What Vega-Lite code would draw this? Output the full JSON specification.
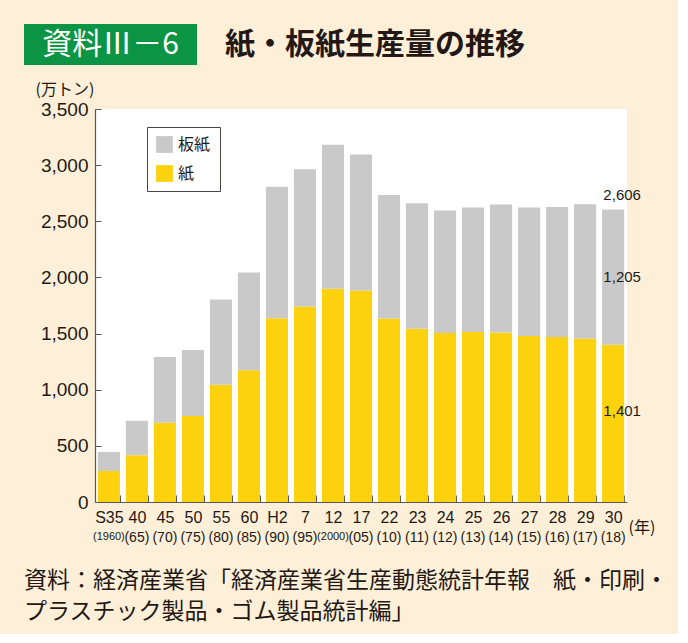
{
  "$schema": "https://vega.github.io/schema/vega-lite/v6.json",
  "background": "#FEF0D8",
  "padding": {"left": 24, "top": 24, "right": 10, "bottom": 10},
  "config": {"view": {"stroke": null}, "font": "Liberation Sans"},
  "title": {
    "text": ["資料：経済産業省「経済産業省生産動態統計年報　紙・印刷・", "　　　プラスチック製品・ゴム製品統計編」"],
    "orient": "bottom", "anchor": "start", "frame": "group",
    "font": "Noto Sans CJK JP", "fontSize": 23, "fontWeight": "normal",
    "color": "#231815", "lineHeight": 31, "offset": 26, "baseline": "top"
  },
  "spacing": 16,
  "resolve": {"scale": {"color": "independent"}, "legend": {"color": "independent"}},
  "vconcat": [
    {
      "spacing": 25,
      "hconcat": [
        {
          "width": 173, "height": 41,
          "view": {"fill": "#0B9444", "stroke": null},
          "data": {"values": [{"t": "資料Ⅲ－6"}]},
          "mark": {"type": "text", "font": "Noto Sans CJK JP", "fontSize": 30, "color": "white", "baseline": "middle", "align": "center"},
          "encoding": {"text": {"field": "t", "type": "nominal"}}
        },
        {
          "width": 306, "height": 41,
          "data": {"values": [{"t": "紙・板紙生産量の推移"}]},
          "mark": {"type": "text", "font": "Noto Sans CJK JP", "fontSize": 30, "fontWeight": "bold", "color": "#231815", "baseline": "middle", "align": "center"},
          "encoding": {"text": {"field": "t", "type": "nominal"}}
        }
      ]
    },
    {
      "spacing": 9,
      "resolve": {"scale": {"color": "independent"}, "legend": {"color": "independent"}},
      "hconcat": [
        {
          "width": 2, "height": 2,
          "data": {"values": [{"t": " "}]},
          "mark": {"type": "text"},
          "encoding": {"text": {"field": "t", "type": "nominal"}}
        },
        {
          "width": 532, "height": 393,
          "view": {"fill": "white", "stroke": null},
          "data": {"values": [
            {"year": "S35|(1960)", "type": "紙", "value": 277}, {"year": "S35|(1960)", "type": "板紙", "value": 169},
            {"year": "40|(65)", "type": "紙", "value": 417}, {"year": "40|(65)", "type": "板紙", "value": 306},
            {"year": "45|(70)", "type": "紙", "value": 705}, {"year": "45|(70)", "type": "板紙", "value": 587},
            {"year": "50|(75)", "type": "紙", "value": 765}, {"year": "50|(75)", "type": "板紙", "value": 589},
            {"year": "55|(80)", "type": "紙", "value": 1045}, {"year": "55|(80)", "type": "板紙", "value": 759},
            {"year": "60|(85)", "type": "紙", "value": 1173}, {"year": "60|(85)", "type": "板紙", "value": 872},
            {"year": "H2|(90)", "type": "紙", "value": 1637}, {"year": "H2|(90)", "type": "板紙", "value": 1170},
            {"year": "7|(95)", "type": "紙", "value": 1741}, {"year": "7|(95)", "type": "板紙", "value": 1223},
            {"year": "12|(2000)", "type": "紙", "value": 1899}, {"year": "12|(2000)", "type": "板紙", "value": 1283},
            {"year": "17|(05)", "type": "紙", "value": 1884}, {"year": "17|(05)", "type": "板紙", "value": 1211},
            {"year": "22|(10)", "type": "紙", "value": 1634}, {"year": "22|(10)", "type": "板紙", "value": 1101},
            {"year": "23|(11)", "type": "紙", "value": 1542}, {"year": "23|(11)", "type": "板紙", "value": 1119},
            {"year": "24|(12)", "type": "紙", "value": 1506}, {"year": "24|(12)", "type": "板紙", "value": 1089},
            {"year": "25|(13)", "type": "紙", "value": 1515}, {"year": "25|(13)", "type": "板紙", "value": 1107},
            {"year": "26|(14)", "type": "紙", "value": 1509}, {"year": "26|(14)", "type": "板紙", "value": 1140},
            {"year": "27|(15)", "type": "紙", "value": 1479}, {"year": "27|(15)", "type": "板紙", "value": 1143},
            {"year": "28|(16)", "type": "紙", "value": 1470}, {"year": "28|(16)", "type": "板紙", "value": 1158},
            {"year": "29|(17)", "type": "紙", "value": 1455}, {"year": "29|(17)", "type": "板紙", "value": 1197},
            {"year": "30|(18)", "type": "紙", "value": 1401}, {"year": "30|(18)", "type": "板紙", "value": 1205}
          ]},
          "resolve": {"axis": {"x": "independent"}},
          "layer": [
            {
              "transform": [{"calculate": "datum.type === '紙' ? 0 : 1", "as": "ord"}],
              "mark": {"type": "bar"},
              "encoding": {
                "x": {
                  "field": "year", "type": "ordinal", "sort": null,
                  "scale": {"domain": ["S35|(1960)","40|(65)","45|(70)","50|(75)","55|(80)","60|(85)","H2|(90)","7|(95)","12|(2000)","17|(05)","22|(10)","23|(11)","24|(12)","25|(13)","26|(14)","27|(15)","28|(16)","29|(17)","30|(18)"], "paddingInner": 0.21, "paddingOuter": 0.1},
                  "axis": {
                    "orient": "bottom", "labelExpr": "isString(datum.value) ? replace(datum.value, /[|].*$/, '') : ''", "labelAngle": 0,
                    "labelFont": "Liberation Sans", "labelFontSize": 16, "labelColor": "#231815",
                    "labelPadding": 14, "labelOverlap": false,
                    "domainColor": "#595757", "domainWidth": 1.2,
                    "tickColor": "#595757", "tickSize": -7, "tickWidth": 1, "tickBand": "extent",
                    "title": "(年)", "titleFont": "Noto Sans CJK JP", "titleFontSize": 16, "titleFontWeight": "normal",
                    "titleColor": "#231815", "titleX": 533, "titleY": 25, "titleAlign": "left", "titleBaseline": "middle", "titleAngle": 0
                  }
                },
                "y": {
                  "field": "value", "type": "quantitative", "stack": "zero",
                  "scale": {"domain": [0, 3500], "nice": false},
                  "axis": {
                    "values": [0, 500, 1000, 1500, 2000, 2500, 3000, 3500], "format": ",d",
                    "labelFont": "Liberation Sans", "labelFontSize": 19, "labelColor": "#231815", "labelPadding": 13,
                    "tickSize": -6, "tickColor": "#595757", "domainColor": "#595757", "domainWidth": 1.2, "grid": false,
                    "title": "(万トン)", "titleFont": "Noto Sans CJK JP", "titleFontSize": 16, "titleFontWeight": "normal",
                    "titleColor": "#231815", "titleAngle": 0, "titleAlign": "left", "titleBaseline": "middle",
                    "titleX": -60, "titleY": -20
                  }
                },
                "color": {
                  "field": "type", "type": "nominal",
                  "scale": {"domain": ["板紙", "紙"], "range": ["#C9C9CA", "#FCD20E"]},
                  "legend": {
                    "title": null, "orient": "none", "legendX": 52, "legendY": 18,
                    "fillColor": "white", "strokeColor": "#4D4240", "padding": 9,
                    "symbolType": "square", "symbolSize": 280, "symbolStrokeWidth": 0,
                    "labelFont": "Noto Sans CJK JP", "labelFontSize": 16, "labelColor": "#231815",
                    "labelOffset": 5, "rowPadding": 12
                  }
                },
                "order": {"field": "ord", "type": "quantitative"}
              }
            },
            {
              "transform": [
                {"filter": "datum.year === '30|(18)'"},
                {"aggregate": [{"op": "sum", "field": "value", "as": "total"}], "groupby": ["year"]}
              ],
              "mark": {"type": "text", "font": "Liberation Sans", "fontSize": 15, "color": "#231815", "dx": 9, "dy": -14, "baseline": "middle"},
              "encoding": {
                "x": {
                  "field": "year", "type": "ordinal", "sort": null,
                  "scale": {"domain": ["S35|(1960)","40|(65)","45|(70)","50|(75)","55|(80)","60|(85)","H2|(90)","7|(95)","12|(2000)","17|(05)","22|(10)","23|(11)","24|(12)","25|(13)","26|(14)","27|(15)","28|(16)","29|(17)","30|(18)"], "paddingInner": 0.21, "paddingOuter": 0.1},
                  "axis": {
                    "orient": "bottom", "labelExpr": "isString(datum.value) ? replace(datum.value, /^[^|]*[|]/, '') : ''", "labelAngle": 0,
                    "labelFont": "Liberation Sans",
                    "labelFontSize": {"condition": {"test": "test(/[(](19|20)/, datum.value)", "value": 11}, "value": 14},
                    "labelColor": "#231815", "labelPadding": 28, "labelOverlap": false,
                    "domain": false, "ticks": false, "title": null
                  }
                },
                "y": {"field": "total", "type": "quantitative", "stack": null, "scale": {"domain": [0, 3500], "nice": false}},
                "text": {"field": "total", "type": "quantitative", "format": ","}
              }
            },
            {
              "transform": [
                {"filter": "datum.year === '30|(18)' && datum.type === '板紙'"},
                {"calculate": "1401 + datum.value / 2", "as": "mid"}
              ],
              "mark": {"type": "text", "font": "Liberation Sans", "fontSize": 15, "color": "#231815", "dx": 9, "baseline": "middle"},
              "encoding": {
                "x": {"field": "year", "type": "ordinal", "sort": null, "scale": {"domain": ["S35|(1960)","40|(65)","45|(70)","50|(75)","55|(80)","60|(85)","H2|(90)","7|(95)","12|(2000)","17|(05)","22|(10)","23|(11)","24|(12)","25|(13)","26|(14)","27|(15)","28|(16)","29|(17)","30|(18)"], "paddingInner": 0.21, "paddingOuter": 0.1}, "axis": null},
                "y": {"field": "mid", "type": "quantitative", "stack": null, "scale": {"domain": [0, 3500], "nice": false}},
                "text": {"field": "value", "type": "quantitative", "format": ","}
              }
            },
            {
              "transform": [
                {"filter": "datum.year === '30|(18)' && datum.type === '紙'"},
                {"calculate": "datum.value / 2", "as": "mid"}
              ],
              "mark": {"type": "text", "font": "Liberation Sans", "fontSize": 15, "color": "#231815", "dx": 9, "dy": -12, "baseline": "middle"},
              "encoding": {
                "x": {"field": "year", "type": "ordinal", "sort": null, "scale": {"domain": ["S35|(1960)","40|(65)","45|(70)","50|(75)","55|(80)","60|(85)","H2|(90)","7|(95)","12|(2000)","17|(05)","22|(10)","23|(11)","24|(12)","25|(13)","26|(14)","27|(15)","28|(16)","29|(17)","30|(18)"], "paddingInner": 0.21, "paddingOuter": 0.1}, "axis": null},
                "y": {"field": "mid", "type": "quantitative", "stack": null, "scale": {"domain": [0, 3500], "nice": false}},
                "text": {"field": "value", "type": "quantitative", "format": ","}
              }
            }
          ]
        }
      ]
    }
  ]
}
